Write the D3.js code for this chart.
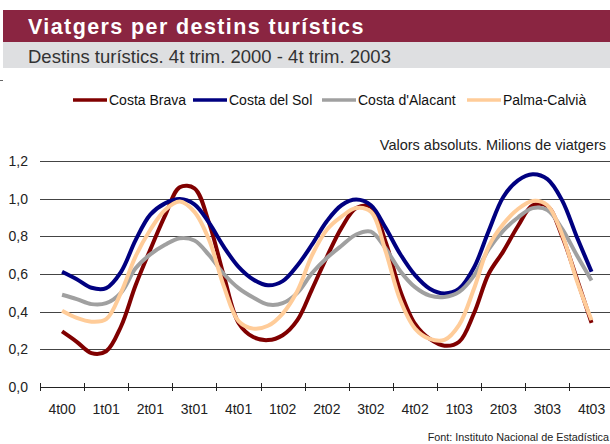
<!DOCTYPE html>
<html>
<head>
<meta charset="utf-8">
<script src="https://cdn.jsdelivr.net/npm/d3@7"></script>
<style>
  html, body { margin: 0; padding: 0; background: #fff; }
  svg { display: block; }
  text { font-family: "Liberation Sans", Arial, sans-serif; }
</style>
</head>
<body>
<svg id="chart" width="610" height="444"></svg>
<script>
// ---- data ----
const quarters = ["4t00","1t01","2t01","3t01","4t01","1t02","2t02","3t02","4t02","1t03","2t03","3t03","4t03"];
const yTicks = [0, 0.2, 0.4, 0.6, 0.8, 1.0, 1.2];
const seriesNames = ["Costa Brava", "Costa del Sol", "Costa d'Alacant", "Palma-Calvià"];
// monthly values (millions of travellers), from 4t00 to 4t03
const costaBrava = [0.295,0.24,0.18,0.19,0.32,0.54,0.73,0.91,1.06,1.055,0.87,0.59,0.34,0.265,0.249,0.275,0.355,0.52,0.69,0.845,0.95,0.955,0.77,0.51,0.335,0.255,0.219,0.24,0.39,0.60,0.72,0.855,0.965,0.96,0.80,0.575,0.34];
const costaDelSol = [0.612,0.572,0.527,0.525,0.61,0.78,0.915,0.975,0.998,0.97,0.871,0.744,0.638,0.571,0.54,0.562,0.645,0.757,0.88,0.965,0.995,0.965,0.845,0.705,0.594,0.522,0.497,0.522,0.633,0.827,1.009,1.097,1.13,1.104,0.991,0.797,0.612];
const costaAlacant = [0.49,0.467,0.44,0.445,0.50,0.63,0.704,0.755,0.79,0.778,0.70,0.60,0.525,0.475,0.438,0.445,0.50,0.605,0.685,0.75,0.81,0.825,0.735,0.615,0.53,0.485,0.478,0.505,0.59,0.73,0.83,0.90,0.95,0.94,0.84,0.70,0.565];
const palmaCalvia = [0.405,0.367,0.347,0.36,0.50,0.694,0.835,0.94,0.985,0.93,0.78,0.535,0.35,0.31,0.325,0.39,0.51,0.70,0.835,0.905,0.95,0.93,0.72,0.46,0.31,0.255,0.25,0.33,0.52,0.745,0.865,0.945,0.988,0.965,0.81,0.565,0.355];
const seriesValues = [costaBrava, costaDelSol, costaAlacant, palmaCalvia];
const seriesColors = ["#800000", "#000080", "#a0a0a0", "#ffcc99"];

// ---- layout ----
const svg = d3.select("#chart");

// header
svg.append("rect").attr("x", 3).attr("y", 10).attr("width", 607).attr("height", 32).attr("fill", "#8a2541");
svg.append("rect").attr("x", 3).attr("y", 42).attr("width", 607).attr("height", 26).attr("fill", "#dedfe1");
svg.append("text").attr("x", 28).attr("y", 34).attr("fill", "#fff")
  .attr("font-size", 21.5).attr("font-weight", "bold").attr("letter-spacing", 1.4)
  .text("Viatgers per destins turístics");
svg.append("text").attr("x", 28).attr("y", 63).attr("fill", "#333")
  .attr("font-size", 18.5)
  .text("Destins turístics. 4t trim. 2000 - 4t trim. 2003");
svg.append("line").attr("x1", 0).attr("x2", 3).attr("y1", 80.5).attr("y2", 80.5).attr("stroke", "#666");

// scales
const x = d3.scaleBand().domain(quarters).range([40, 613.6]).paddingInner(0).paddingOuter(0);
const y = d3.scaleLinear().domain([0, 1.2]).range([387, 161]);
const step = x.step();
const monthX = i => x(quarters[Math.floor(i / 3)]) + step / 2 + (i % 3) * step / 3;

const fmt = v => d3.format(".1f")(v).replace(".", ",");

// grid
svg.append("g").selectAll("line").data(yTicks.filter(d => d > 0)).join("line")
  .attr("x1", 40).attr("x2", 610)
  .attr("y1", d => Math.round(y(d)) + 0.5).attr("y2", d => Math.round(y(d)) + 0.5)
  .attr("stroke", "#444").attr("stroke-width", 1);

// y labels
svg.append("g").selectAll("text").data(yTicks).join("text")
  .attr("x", 28).attr("y", d => y(d)).attr("dy", "0.36em")
  .attr("text-anchor", "end").attr("font-size", 14).attr("fill", "#222")
  .text(fmt);

// x axis
const xAxis = d3.axisBottom(x).tickSize(0).tickPadding(17).tickFormat(d => d);
const gx = svg.append("g").attr("transform", `translate(0,${Math.round(y(0)) + 0.5})`).call(xAxis);
gx.select(".domain").remove();
gx.selectAll("text").attr("font-size", 14).attr("fill", "#222").attr("font-family", "Liberation Sans, Arial, sans-serif");
svg.append("line").attr("x1", 40).attr("x2", 610)
  .attr("y1", Math.round(y(0)) + 0.5).attr("y2", Math.round(y(0)) + 0.5)
  .attr("stroke", "#222").attr("stroke-width", 1);
svg.append("g").selectAll("line").data(quarters).join("line")
  .attr("x1", d => Math.round(x(d)) + 0.5).attr("x2", d => Math.round(x(d)) + 0.5)
  .attr("y1", 383).attr("y2", 391).attr("stroke", "#222");

// lines
const line = d3.line().x((d, i) => monthX(i)).y(d => y(d)).curve(d3.curveCatmullRom.alpha(0.5));
svg.append("g").selectAll("path").data(seriesValues).join("path")
  .attr("d", d => line(d))
  .attr("fill", "none")
  .attr("stroke", (d, i) => seriesColors[i])
  .attr("stroke-width", 4)
  .attr("stroke-linejoin", "round");

// legend
const legendX = [73, 193, 322, 467];
const lg = svg.append("g").selectAll("g").data(seriesNames).join("g")
  .attr("transform", (d, i) => `translate(${legendX[i]},100)`);
lg.append("line").attr("x1", 0).attr("x2", 34).attr("y1", 0).attr("y2", 0)
  .attr("stroke", (d, i) => seriesColors[i]).attr("stroke-width", 3.5);
lg.append("text").attr("x", 36).attr("y", 5).attr("font-size", 14).attr("fill", "#111").text(d => d);

// notes
svg.append("text").attr("x", 606).attr("y", 150).attr("text-anchor", "end")
  .attr("font-size", 14.5).attr("fill", "#222").text("Valors absoluts. Milions de viatgers");
svg.append("text").attr("x", 609).attr("y", 441).attr("text-anchor", "end")
  .attr("font-size", 10.8).attr("fill", "#222").text("Font: Instituto Nacional de Estadística");
</script>
</body>
</html>
